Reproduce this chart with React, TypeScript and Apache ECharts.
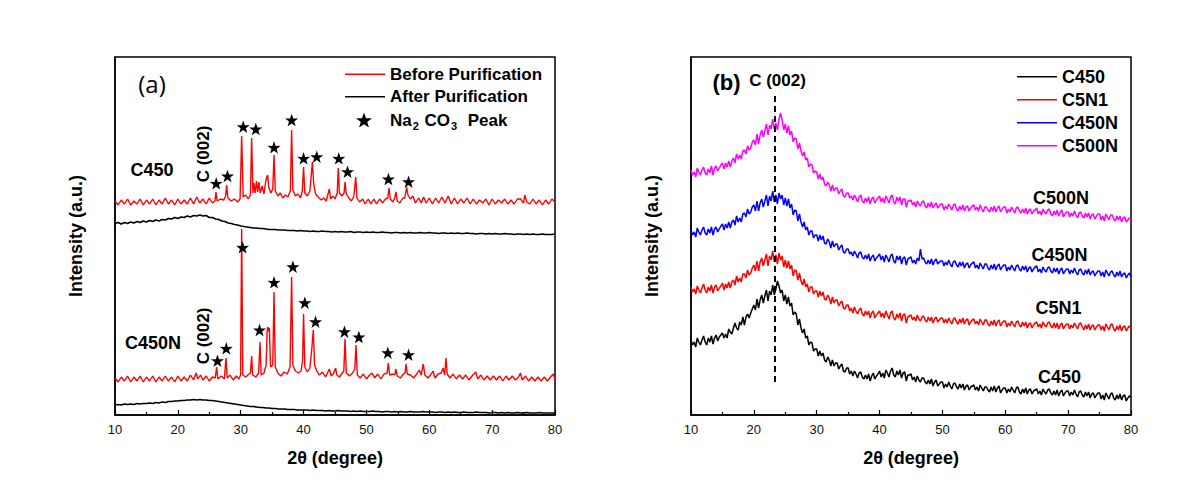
import React, { useEffect, useRef } from "react";
import * as echarts from "echarts";

// ---------- data ----------
// Panel (a): intensities (a.u., stacked offsets as in the figure), [2θ, intensity]
const C450_BEFORE: [number, number][] = [
  [10, 214], [10.5, 210], [11, 215], [11.5, 211], [12, 216], [12.5, 210], [13, 214], [13.5, 211], [14, 216], [14.5, 210],
  [15, 215], [15.5, 211], [16, 216], [16.5, 210], [17, 215], [17.5, 211], [18, 217], [18.5, 211], [19, 215], [19.5, 210],
  [20, 216], [20.5, 211], [21, 215], [21.5, 211], [22, 217], [22.5, 211], [23, 218], [23.5, 212], [24, 216], [24.5, 211],
  [25, 217], [25.5, 212], [25.9, 214], [26.07, 223], [26.25, 214], [26.8, 216], [27.3, 215], [27.6, 219], [27.77, 230],
  [27.95, 217], [28.5, 214], [29, 216], [29.5, 213], [29.9, 216], [30.15, 279], [30.4, 218], [30.8, 220], [31.2, 216],
  [31.55, 220], [31.74, 277], [31.95, 222], [32.1, 232], [32.3, 222], [32.5, 234], [32.7, 223], [32.9, 233], [33.1, 222],
  [33.4, 229], [33.7, 221], [34.0, 234], [34.15, 238], [34.29, 240], [34.45, 228], [34.8, 222], [35.1, 226], [35.3, 260],
  [35.5, 224], [35.9, 219], [36.3, 222], [36.7, 217], [37.1, 220], [37.5, 218], [37.9, 224], [38.1, 285], [38.3, 225],
  [38.7, 219], [39.1, 221], [39.5, 217], [39.8, 224], [40.0, 248], [40.2, 222], [40.6, 219], [41.0, 224], [41.2, 238],
  [41.4, 253], [41.6, 232], [41.9, 221], [42.3, 218], [42.8, 215], [43.2, 217], [43.6, 214], [44.1, 226], [44.3, 216],
  [44.7, 219], [45.0, 216], [45.35, 222], [45.53, 247], [45.7, 222], [46.1, 219], [46.45, 222], [46.6, 233], [46.8, 221],
  [47.2, 217], [47.6, 214], [48.0, 219], [48.3, 238], [48.5, 217], [48.9, 213], [49.4, 216], [49.8, 211], [50.3, 216],
  [50.7, 211], [51.2, 216], [51.6, 211], [52.1, 216], [52.6, 212], [53.0, 216], [53.4, 217], [53.6, 227], [53.8, 216],
  [54.2, 213], [54.5, 217], [54.7, 223], [54.9, 214], [55.3, 212], [55.8, 217], [56.1, 217], [56.4, 228], [56.6, 220],
  [57, 216], [57.4, 219], [57.8, 212], [58.3, 217], [58.7, 212], [59.1, 218], [59.5, 212], [60, 217], [60.5, 211],
  [61, 217], [61.5, 212], [62, 218], [62.5, 212], [63, 219], [63.5, 211], [64, 217], [64.5, 211], [65, 216], [65.5, 212],
  [66, 217], [66.5, 211], [67, 216], [67.5, 211], [68, 215], [68.5, 212], [69, 216], [69.5, 210], [70, 216], [70.5, 211],
  [71, 215], [71.5, 212], [72, 216], [72.5, 211], [73, 215], [73.5, 211], [74, 216], [74.5, 216], [75, 212], [75.2, 220],
  [75.5, 213], [76, 211], [76.5, 216], [77, 211], [77.5, 215], [78, 210], [78.5, 215], [79, 211], [79.5, 216], [80, 213],
];

const C450N_BEFORE: [number, number][] = [
  [10, 37], [10.5, 33], [11, 38], [11.5, 34], [12, 39], [12.5, 33], [13, 38], [13.5, 34], [14, 39], [14.5, 33],
  [15, 38], [15.5, 34], [16, 39], [16.5, 33], [17, 38], [17.5, 34], [18, 39], [18.5, 34], [19, 38], [19.5, 33],
  [20, 39], [20.5, 34], [21, 38], [21.5, 34], [22, 40], [22.5, 35], [22.9, 42], [23.2, 36], [23.6, 40], [24, 35],
  [24.5, 39], [25, 34], [25.5, 38], [25.95, 37], [26.17, 48], [26.35, 36], [26.9, 39], [27.4, 36], [27.66, 57], [27.85, 37],
  [28.3, 40], [28.8, 35], [29.3, 39], [29.7, 36], [29.98, 40], [30.15, 186], [30.33, 40], [30.8, 38], [31.3, 41], [31.55, 42],
  [31.74, 59], [31.9, 40], [32.4, 38], [32.85, 42], [33.07, 73], [33.25, 40], [33.7, 42], [34.05, 50], [34.2, 84], [34.29, 88],
  [34.45, 84], [34.55, 87], [34.75, 48], [35.1, 50], [35.3, 123], [35.5, 48], [35.9, 42], [36.4, 39], [36.9, 43], [37.4, 41],
  [37.85, 48], [38.1, 138], [38.3, 50], [38.7, 44], [39.2, 42], [39.6, 44], [39.85, 55], [40.0, 101], [40.2, 48], [40.6, 43],
  [41.0, 47], [41.25, 62], [41.55, 85], [41.75, 50], [42.1, 44], [42.5, 40], [43.0, 43], [43.5, 38], [44.1, 46], [44.4, 39],
  [44.8, 42], [45.1, 47], [45.3, 40], [45.7, 38], [46.4, 44], [46.6, 76], [46.8, 42], [47.3, 39], [47.8, 42], [48.15, 46],
  [48.34, 70], [48.55, 40], [49.0, 37], [49.5, 41], [50.0, 36], [50.5, 40], [50.9, 42], [51.3, 37], [51.8, 41], [52.3, 36],
  [52.8, 41], [53.3, 42], [53.48, 52], [53.7, 40], [54.2, 41], [54.5, 40], [54.7, 46], [54.9, 39], [55.4, 37], [55.9, 41],
  [56.15, 42], [56.3, 51], [56.5, 41], [57, 40], [57.5, 37], [58, 41], [58.4, 45], [58.7, 40], [59.05, 51], [59.3, 40],
  [59.8, 37], [60.3, 41], [60.6, 44], [60.9, 37], [61.4, 41], [61.9, 42], [62.2, 47], [62.45, 40], [62.66, 57], [62.85, 41],
  [63.3, 37], [63.8, 41], [64.3, 36], [64.8, 40], [65.3, 36], [65.8, 40], [66.3, 35], [66.8, 39], [67.4, 43], [67.7, 36],
  [68.2, 40], [68.7, 35], [69.2, 39], [69.7, 35], [70.2, 39], [70.7, 35], [71.2, 39], [71.7, 34], [72.2, 39], [72.7, 35],
  [73.2, 39], [73.7, 35], [74.2, 38], [74.5, 42], [74.8, 35], [75.3, 39], [75.8, 34], [76.3, 38], [76.8, 34], [77.3, 38],
  [77.8, 34], [78.3, 38], [78.8, 34], [79.3, 38], [79.7, 41], [80, 36],
];

// "After purification" curves, sampled every 0.5° from 10° to 80°
const AFTER_START = 10;
const AFTER_STEP = 0.5;
const C450_AFTER = [
  191.5, 192.5, 191, 192.5, 191.5, 193, 192, 193.5, 192.5, 194,
  193, 194.5, 193.5, 195, 194, 195.5, 195, 196.5, 196, 197.5,
  196.5, 198, 197.5, 199, 198, 199.5, 199, 200, 199, 199.5,
  197.5, 197.5, 196, 195.5, 194, 193.5, 192, 191.5, 190.5, 190,
  189, 188.5, 188, 187.5, 187, 187, 186.5, 186.5, 186, 185.5,
  185.5, 185.5, 185, 185, 185, 184.5, 184.5, 184.5, 184, 184.5,
  184, 184, 183.5, 184, 183.5, 183.5, 184, 183.5, 183.5, 183,
  183.5, 183, 183.5, 183, 183, 183.5, 182.5, 183, 183, 182.5,
  183, 182.5, 183, 182.5, 182.5, 183, 182.5, 182.5, 182, 182.5,
  182.5, 182, 182.5, 182, 182.5, 182, 182, 182.5, 182, 182,
  182.5, 182, 182, 181.5, 182, 182, 181.5, 182, 181.5, 182,
  181.5, 181.5, 182, 181.5, 181.5, 181, 181.5, 181.5, 181, 181.5,
  181, 181.5, 181, 181, 181.5, 181, 181, 180.5, 181, 181,
  180.5, 181, 180.5, 181, 180.5, 180.5, 181, 180.5, 180.5, 180.5,
  181,
];
const C450N_AFTER = [
  10, 10.5, 10, 11, 10.5, 11, 10.5, 11.5, 11, 11.5,
  11.5, 12, 11.5, 12.5, 12, 13, 12.5, 13.5, 13.5, 14,
  14, 14.5, 14.5, 15, 15, 15.5, 15, 15.5, 15, 15,
  14.5, 14.5, 14, 13.5, 13, 12.5, 12, 11.5, 11, 10.5,
  10, 9.5, 9, 8.5, 8.5, 8, 7.5, 7.5, 7, 7,
  6.5, 6.5, 6, 6, 6, 5.5, 5.5, 5.5, 5, 5,
  5, 5, 4.5, 5, 4.5, 4.5, 4.5, 4, 4.5, 4,
  4, 4.5, 4, 4, 4, 3.5, 4, 3.5, 4, 3.5,
  3.5, 3.5, 4, 3.5, 3.5, 3, 3.5, 3.5, 3, 3.5,
  3, 3.5, 3, 3, 3.5, 3, 3, 3, 3.5, 3,
  3, 3, 2.5, 3, 3, 2.5, 3, 2.5, 3, 2.5,
  2.5, 3, 2.5, 2.5, 2.5, 3, 2.5, 2.5, 2.5, 2,
  2.5, 2.5, 2, 2.5, 2, 2.5, 2, 2, 2.5, 2,
  2, 2.5, 2, 2, 2, 2.5, 2, 2, 2, 2,
  2,
];

// Na2CO3 peak markers [2θ, marker height]
const STARS_C450: [number, number][] = [
  [26.1, 231.7], [27.9, 239], [30.4, 288.3], [32.4, 286], [35.3, 267.7], [38.1, 295],
  [40.0, 256.7], [42.1, 258.3], [45.6, 256.7], [47.0, 243.3], [53.5, 236], [56.7, 233.3],
];
const STARS_C450N: [number, number][] = [
  [26.3, 54.3], [27.7, 66.7], [30.3, 167.7], [33.0, 85], [35.3, 132.7], [38.3, 148.3],
  [40.2, 112.3], [41.9, 93.3], [46.5, 83.3], [48.8, 78], [53.4, 62.3], [56.7, 60.3],
];

// Panel (b): sampled every 0.25° from 10° to 80°
const B_START = 10;
const B_STEP = 0.25;
const B_C450 = [
  75, 70, 73, 68, 77, 73, 70, 75, 79, 73, 70, 77, 73, 79, 71, 77, 80, 74, 78, 80,
  82, 77, 81, 77, 86, 83, 81, 87, 92, 87, 85, 93, 90, 98, 90, 98, 101, 97, 102, 106,
  110, 105, 116, 107, 115, 120, 112, 119, 125, 114, 124, 120, 130, 120, 126, 134, 129, 122, 125, 114,
  120, 111, 118, 109, 112, 100, 103, 101, 90, 96, 87, 82, 86, 77, 79, 70, 73, 72, 64, 66,
  66, 59, 64, 59, 62, 55, 53, 58, 55, 49, 55, 49, 52, 52, 46, 49, 51, 44, 43, 47,
  47, 41, 44, 39, 44, 41, 37, 42, 43, 38, 36, 40, 36, 41, 34, 39, 42, 36, 39, 41,
  44, 38, 42, 37, 45, 42, 38, 44, 47, 40, 38, 44, 40, 45, 37, 42, 43, 34, 40, 40,
  41, 35, 38, 33, 39, 35, 33, 37, 37, 33, 31, 35, 31, 36, 29, 33, 35, 29, 31, 33,
  33, 27, 31, 28, 33, 29, 26, 31, 32, 28, 26, 31, 27, 31, 25, 29, 30, 25, 28, 29,
  30, 25, 28, 24, 30, 27, 24, 28, 28, 25, 23, 28, 24, 29, 23, 27, 29, 22, 25, 27,
  27, 22, 26, 23, 28, 25, 22, 27, 28, 23, 21, 26, 22, 27, 21, 25, 26, 21, 24, 25,
  26, 21, 24, 20, 26, 23, 21, 25, 26, 22, 20, 24, 20, 25, 19, 23, 25, 19, 22, 24,
  24, 19, 23, 20, 25, 21, 18, 23, 24, 20, 18, 23, 19, 23, 17, 21, 22, 17, 20, 22,
  22, 16, 20, 15, 22, 19, 16, 21, 22, 17, 15, 20, 16, 21, 15, 19, 20, 14, 17, 19,
  18,
];
const B_C5N1 = [
  128, 123, 126, 121, 129, 125, 122, 127, 131, 125, 122, 128, 124, 130, 122, 128, 130, 124, 127, 129,
  132, 125, 131, 127, 133, 127, 133, 135, 130, 139, 133, 137, 133, 141, 141, 137, 145, 140, 142, 147,
  150, 144, 154, 144, 153, 157, 149, 155, 161, 149, 159, 155, 164, 153, 160, 151, 162, 155, 159, 148,
  155, 147, 154, 146, 150, 139, 145, 144, 135, 142, 134, 130, 136, 128, 131, 123, 128, 128, 121, 124,
  124, 118, 124, 119, 123, 116, 115, 120, 117, 111, 118, 112, 115, 115, 109, 112, 114, 107, 106, 110,
  110, 104, 107, 102, 108, 104, 101, 105, 107, 101, 99, 104, 100, 104, 97, 102, 104, 97, 100, 102,
  104, 98, 102, 97, 104, 100, 96, 102, 104, 97, 95, 101, 97, 102, 94, 100, 101, 92, 98, 99,
  100, 95, 98, 94, 100, 96, 94, 98, 99, 95, 93, 98, 94, 98, 92, 96, 98, 93, 95, 97,
  97, 92, 96, 92, 97, 94, 91, 96, 97, 93, 91, 96, 92, 97, 91, 95, 96, 90, 93, 95,
  96, 91, 94, 90, 96, 93, 90, 95, 95, 91, 89, 94, 90, 95, 89, 93, 95, 89, 92, 94,
  94, 88, 92, 89, 94, 91, 88, 93, 94, 90, 88, 93, 89, 93, 87, 91, 92, 87, 90, 92,
  93, 88, 91, 87, 93, 90, 88, 92, 93, 89, 87, 92, 87, 92, 86, 90, 92, 86, 89, 91,
  91, 86, 90, 87, 92, 89, 86, 91, 92, 88, 85, 90, 86, 91, 85, 89, 90, 85, 88, 90,
  90, 85, 89, 84, 91, 88, 85, 90, 91, 86, 84, 89, 85, 90, 84, 88, 89, 84, 87, 89,
  86,
];
const B_C450N = [
  185, 180, 183, 178, 187, 183, 180, 185, 188, 182, 180, 186, 182, 188, 180, 186, 188, 183, 186, 189,
  191, 185, 191, 187, 193, 187, 193, 195, 190, 199, 193, 197, 193, 201, 202, 198, 206, 201, 203, 208,
  210, 204, 214, 204, 212, 216, 208, 214, 220, 209, 219, 214, 224, 213, 220, 211, 222, 216, 220, 210,
  217, 209, 216, 207, 211, 200, 205, 204, 194, 201, 193, 188, 193, 185, 188, 180, 184, 184, 177, 180,
  180, 174, 180, 175, 179, 172, 171, 176, 173, 167, 174, 168, 171, 171, 165, 168, 170, 163, 162, 166,
  166, 161, 163, 159, 164, 161, 157, 162, 163, 158, 156, 160, 156, 161, 154, 158, 160, 154, 157, 159,
  161, 155, 159, 153, 160, 157, 153, 159, 161, 154, 152, 159, 155, 159, 151, 157, 158, 150, 156, 157,
  158, 152, 155, 151, 157, 154, 166, 156, 157, 153, 151, 155, 151, 156, 150, 154, 156, 151, 153, 154,
  154, 149, 153, 150, 155, 151, 148, 153, 154, 150, 148, 153, 149, 153, 147, 151, 152, 147, 150, 152,
  153, 147, 150, 146, 152, 149, 146, 151, 151, 147, 145, 150, 146, 151, 145, 149, 151, 145, 148, 150,
  150, 144, 148, 145, 150, 147, 144, 149, 150, 146, 144, 149, 145, 149, 143, 147, 148, 143, 146, 148,
  149, 143, 146, 142, 148, 145, 143, 147, 148, 144, 142, 147, 143, 147, 141, 145, 147, 141, 144, 146,
  146, 141, 145, 142, 147, 143, 140, 145, 146, 142, 140, 145, 141, 146, 140, 143, 144, 139, 142, 144,
  144, 139, 143, 138, 145, 142, 139, 143, 144, 140, 138, 143, 139, 144, 138, 141, 142, 137, 140, 142,
  138,
];
const B_C500N = [
  245, 240, 243, 238, 247, 243, 240, 245, 248, 242, 240, 246, 242, 249, 240, 247, 249, 244, 247, 250,
  252, 246, 252, 248, 254, 248, 254, 257, 252, 261, 256, 260, 256, 264, 265, 261, 269, 265, 267, 273,
  275, 270, 281, 271, 280, 285, 278, 284, 291, 280, 290, 286, 296, 286, 292, 285, 296, 302, 295, 285,
  291, 282, 289, 280, 284, 273, 277, 276, 266, 272, 264, 259, 263, 255, 257, 248, 251, 250, 242, 244,
  243, 236, 241, 235, 238, 231, 229, 233, 230, 224, 230, 224, 227, 227, 221, 224, 226, 219, 218, 222,
  222, 217, 219, 215, 220, 217, 213, 218, 220, 214, 212, 217, 213, 218, 211, 216, 218, 212, 215, 217,
  219, 213, 217, 212, 219, 216, 212, 218, 220, 213, 211, 218, 214, 218, 210, 216, 216, 208, 214, 214,
  215, 210, 213, 208, 214, 211, 209, 213, 214, 209, 207, 212, 208, 213, 207, 210, 212, 207, 209, 211,
  211, 205, 209, 206, 211, 208, 205, 210, 211, 206, 204, 209, 205, 210, 204, 208, 209, 204, 207, 209,
  210, 205, 208, 204, 210, 206, 203, 208, 208, 205, 203, 208, 204, 209, 203, 207, 209, 203, 206, 208,
  208, 202, 206, 203, 208, 205, 202, 207, 208, 204, 202, 206, 202, 207, 201, 205, 206, 201, 204, 205,
  207, 201, 204, 200, 206, 203, 201, 205, 206, 201, 199, 204, 200, 205, 199, 203, 205, 198, 201, 203,
  203, 198, 202, 199, 204, 200, 197, 202, 203, 199, 197, 202, 198, 202, 196, 200, 201, 196, 199, 201,
  201, 195, 199, 194, 201, 198, 195, 200, 200, 196, 194, 199, 195, 199, 193, 197, 198, 193, 195, 197,
  195,
];

const DASH_ANGLE = 23.4; // C(002) reference line in panel (b)
const DASH_RANGE = [33, 320];

const X_MIN = 10;
const X_MAX = 80;
const X_INTERVAL = 10;
const Y_MAX = 358;

const LEGEND_A = ["Before Purification", "After Purification"];
const LEGEND_STAR = "Na2CO3 Peak";
const LEGEND_B = ["C450", "C5N1", "C450N", "C500N"];

// ---------- helpers ----------
const FONT = "'Liberation Sans', Arial, sans-serif";
const STAR =
  "path://M50,0 L61.8,35.1 L97.6,34.5 L69.1,56.9 L79.4,90.5 L50,70 L20.6,90.5 L30.9,56.9 L2.4,34.5 L38.2,35.1 Z";

const toPairs = (vals: number[], start: number, step: number) => vals.map((v, i) => [start + i * step, v]);

const xAxisCfg = (gridIndex: number) => ({
  gridIndex,
  type: "value",
  min: X_MIN,
  max: X_MAX,
  interval: X_INTERVAL,
  axisLine: { show: true, lineStyle: { color: "#000", width: 1.5 } },
  axisTick: { show: true, inside: true, length: 5, lineStyle: { color: "#000", width: 1.2 } },
  minorTick: { show: true, splitNumber: 2, length: 3, lineStyle: { color: "#000", width: 1.2 } },
  axisLabel: { color: "#111", fontSize: 13, fontFamily: FONT, margin: 8 },
  splitLine: { show: false },
  name: "2θ (degree)",
  nameLocation: "middle",
  nameGap: 34,
  nameTextStyle: { fontSize: 18, fontWeight: "bold", color: "#000", fontFamily: FONT },
});

const yAxisCfg = (gridIndex: number, gap: number) => ({
  gridIndex,
  type: "value",
  min: 0,
  max: Y_MAX,
  axisLine: { show: true, lineStyle: { color: "#000", width: 1.5 } },
  axisTick: { show: false },
  axisLabel: { show: false },
  splitLine: { show: false },
  name: "Intensity (a.u.)",
  nameLocation: "middle",
  nameGap: gap,
  nameTextStyle: { fontSize: 18, fontWeight: "bold", color: "#000", fontFamily: FONT },
});

const lineSeries = (name: string, data: any[], color: string, axis: number, width = 1.2, extra: any = {}) => ({
  name,
  type: "line",
  xAxisIndex: axis,
  yAxisIndex: axis,
  data,
  showSymbol: false,
  symbol: "none",
  color,
  lineStyle: { color, width },
  silent: true,
  z: 2,
  ...extra,
});

const starSeries = (data: [number, number][]) => ({
  name: LEGEND_STAR,
  type: "scatter",
  xAxisIndex: 0,
  yAxisIndex: 0,
  data,
  symbol: STAR,
  symbolSize: 13,
  symbolKeepAspect: true,
  color: "#000",
  itemStyle: { color: "#000", opacity: 1 },
  silent: true,
  z: 5,
});

const label = (text: string, x: number, y: number, size = 18, rotation = 0, extra: any = {}) => ({
  type: "text",
  x,
  y,
  rotation,
  style: {
    text,
    fill: "#000",
    font: `bold ${size}px ${FONT}`,
    align: "center",
    verticalAlign: "middle",
    ...extra,
  },
});

export default function App() {
  const ref = useRef<HTMLDivElement>(null);

  useEffect(() => {
    document.body.style.margin = "0";
    if (!ref.current) return;
    const chart = echarts.init(ref.current, undefined, { renderer: "svg" });

    const option: any = {
      animation: false,
      backgroundColor: "#fff",
      grid: [
        { left: 115, top: 57, width: 440, height: 358, show: true, borderColor: "#000", borderWidth: 1.5 },
        { left: 691, top: 57, width: 440, height: 358, show: true, borderColor: "#000", borderWidth: 1.5 },
      ],
      xAxis: [xAxisCfg(0), xAxisCfg(1)],
      yAxis: [yAxisCfg(0, 30), yAxisCfg(1, 30)],
      legend: [
        {
          data: LEGEND_A,
          orient: "vertical",
          left: 345,
          top: 65.8,
          padding: 0,
          itemWidth: 40,
          itemHeight: 1.5,
          icon: "rect",
          itemGap: 5.4,
          selectedMode: false,
          textStyle: { fontSize: 17, fontWeight: "bold", color: "#000", fontFamily: FONT },
        },
        {
          data: [{ name: LEGEND_STAR, icon: STAR }],
          orient: "vertical",
          left: 356,
          top: 111.5,
          padding: 0,
          itemWidth: 16,
          itemHeight: 16,
          selectedMode: false,
          formatter: () => "{sp|}{a|Na}{b|2}{a| CO}{b|3}{a|  Peak}",
          textStyle: {
            fontSize: 17,
            fontWeight: "bold",
            color: "#000",
            fontFamily: FONT,
            rich: {
              sp: { width: 13 },
              a: { fontSize: 17, fontWeight: "bold", color: "#000", fontFamily: FONT },
              b: { fontSize: 11, fontWeight: "bold", color: "#000", fontFamily: FONT, padding: [12, 1, 0, 1] },
            },
          },
        },
        {
          data: LEGEND_B,
          orient: "vertical",
          left: 1017,
          top: 67.7,
          padding: 0,
          itemWidth: 40,
          itemHeight: 1.5,
          icon: "rect",
          itemGap: 5,
          selectedMode: false,
          textStyle: { fontSize: 18, fontWeight: "bold", color: "#000", fontFamily: FONT },
        },
      ],
      series: [
        lineSeries("After Purification", toPairs(C450_AFTER, AFTER_START, AFTER_STEP), "#000000", 0, 1.6),
        lineSeries("After Purification", toPairs(C450N_AFTER, AFTER_START, AFTER_STEP), "#000000", 0, 1.6),
        lineSeries("Before Purification", C450_BEFORE, "#ff0000", 0, 1.4),
        lineSeries("Before Purification", C450N_BEFORE, "#ff0000", 0, 1.4),
        starSeries(STARS_C450),
        starSeries(STARS_C450N),
        lineSeries("C450", toPairs(B_C450, B_START, B_STEP), "#000000", 1, 1.5, {
          markLine: {
            silent: true,
            symbol: ["none", "none"],
            label: { show: false },
            lineStyle: { type: [6, 4], color: "#000", width: 2 },
            data: [[{ coord: [DASH_ANGLE, DASH_RANGE[0]] }, { coord: [DASH_ANGLE, DASH_RANGE[1]] }]],
          },
        }),
        lineSeries("C5N1", toPairs(B_C5N1, B_START, B_STEP), "#ff0000", 1, 1.5),
        lineSeries("C450N", toPairs(B_C450N, B_START, B_STEP), "#0000ff", 1, 1.5),
        lineSeries("C500N", toPairs(B_C500N, B_START, B_STEP), "#ff00ff", 1, 1.5),
      ],
      graphic: [
        label("(a)", 152, 83, 24, 0, { font: `24px 'Open Sans', Arial, sans-serif` }),
        label("(b)", 726.5, 82, 22),
        label("C (002)", 777.5, 80, 17),
        label("C450", 152, 170, 18),
        label("C450N", 153, 343, 18),
        label("C (002)", 203.5, 154, 17, Math.PI / 2),
        label("C (002)", 203, 336, 17, Math.PI / 2),
        label("C500N", 1061, 198, 18),
        label("C450N", 1059.5, 255, 18),
        label("C5N1", 1058.5, 308, 18),
        label("C450", 1059.5, 377, 18),
      ],
    };

    chart.setOption(option);
    return () => chart.dispose();
  }, []);

  return <div ref={ref} style={{ width: 1200, height: 498 }} />;
}
